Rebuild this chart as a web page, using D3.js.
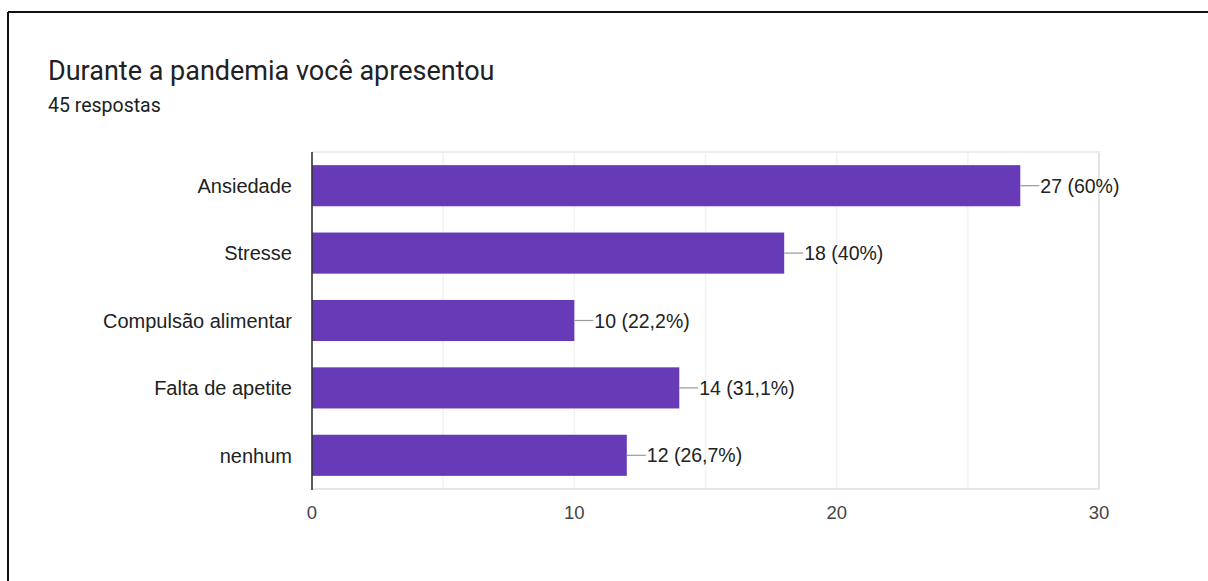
<!DOCTYPE html>
<html>
<head>
<meta charset="utf-8">
<script src="https://cdn.jsdelivr.net/npm/d3@7"></script>
<style>
  html, body { margin: 0; padding: 0; background: #fff; }
  svg { display: block; }
</style>
</head>
<body>
<svg id="chart" width="1208" height="581"></svg>
<script>
// Responses to "Durante a pandemia você apresentou"
const categories = ["Ansiedade", "Stresse", "Compulsão alimentar", "Falta de apetite", "nenhum"];
const counts = [27, 18, 10, 14, 12];
const valueLabels = ["27 (60%)", "18 (40%)", "10 (22,2%)", "14 (31,1%)", "12 (26,7%)"];
const xTicks = [0, 10, 20, 30];
const gridTicks = [0, 5, 10, 15, 20, 25, 30];
const title = "Durante a pandemia você apresentou";
const subtitle = "45 respostas";

const svg = d3.select("#chart");
const W = 1208, H = 581;
const plot = { left: 312, right: 1099, top: 152, bottom: 489 };

// Card frame (top and left edges)
svg.append("line").attr("x1", 8).attr("x2", W).attr("y1", 12).attr("y2", 12)
  .attr("stroke", "#111").attr("stroke-width", 2);
svg.append("line").attr("x1", 8).attr("x2", 8).attr("y1", 12).attr("y2", H)
  .attr("stroke", "#111").attr("stroke-width", 2);

// Header
svg.append("text").attr("x", 48).attr("y", 80)
  .attr("font-family", "Roboto, 'Noto Sans', sans-serif").attr("font-size", 27)
  .attr("fill", "#202124").text(title);
svg.append("text").attr("x", 48).attr("y", 112)
  .attr("font-family", "Roboto, 'Noto Sans', sans-serif").attr("font-size", 19.5)
  .attr("fill", "#202124").text(subtitle);

const x = d3.scaleLinear().domain([0, 30]).range([plot.left, plot.right]);
const y = d3.scaleBand().domain(categories).range([plot.top, plot.bottom])
  .paddingInner(0.39).paddingOuter(0.195);

const font = "'Liberation Sans', Arial, sans-serif";

// Vertical gridlines
svg.append("g").selectAll("line").data(gridTicks.slice(1)).join("line")
  .attr("x1", d => x(d)).attr("x2", d => x(d))
  .attr("y1", plot.top).attr("y2", plot.bottom)
  .attr("stroke", d => d === 30 ? "#e3e3e3" : "#f2f2f2").attr("stroke-width", d => d === 30 ? 2 : 1.5);

// Top and bottom edges of plot area
svg.append("line").attr("x1", plot.left).attr("x2", plot.right + 1)
  .attr("y1", plot.top).attr("y2", plot.top).attr("stroke", "#ececec").attr("stroke-width", 2);
svg.append("line").attr("x1", plot.left).attr("x2", plot.right + 1)
  .attr("y1", plot.bottom).attr("y2", plot.bottom).attr("stroke", "#e6e6e6").attr("stroke-width", 2);

// Bars
svg.append("g").selectAll("rect").data(categories).join("rect")
  .attr("x", x(0)).attr("y", d => y(d))
  .attr("width", (d, i) => x(counts[i]) - x(0))
  .attr("height", y.bandwidth())
  .attr("fill", "#673ab7");

// Baseline at zero
svg.append("line").attr("x1", x(0)).attr("x2", x(0))
  .attr("y1", plot.top).attr("y2", plot.bottom + 1)
  .attr("stroke", "#333").attr("stroke-width", 1.6);

// Category labels
svg.append("g").selectAll("text").data(categories).join("text")
  .attr("x", plot.left - 20).attr("y", d => y(d) + y.bandwidth() / 2)
  .attr("dy", "0.36em").attr("text-anchor", "end")
  .attr("font-family", font).attr("font-size", 20).attr("fill", "#222")
  .text(d => d);

// Leader lines and value labels
const lab = svg.append("g");
categories.forEach((c, i) => {
  const cy = y(c) + y.bandwidth() / 2;
  const x0 = x(counts[i]);
  lab.append("line").attr("x1", x0).attr("x2", x0 + 19).attr("y1", cy).attr("y2", cy)
    .attr("stroke", "#999").attr("stroke-width", 1.2);
  lab.append("text").attr("x", x0 + 20).attr("y", cy).attr("dy", "0.36em")
    .attr("font-family", font).attr("font-size", 19.5).attr("fill", "#222")
    .text(valueLabels[i]);
});

// X axis tick labels
svg.append("g").selectAll("text").data(xTicks).join("text")
  .attr("x", d => x(d)).attr("y", 519).attr("text-anchor", "middle")
  .attr("font-family", font).attr("font-size", 18.5).attr("fill", "#444")
  .text(d => d);
</script>
</body>
</html>
